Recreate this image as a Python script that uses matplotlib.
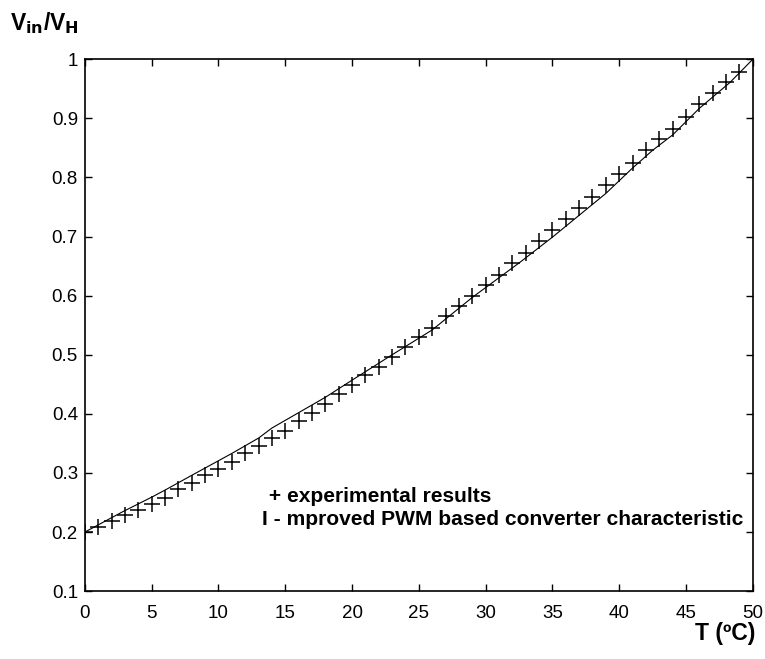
import numpy as np
import matplotlib.pyplot as plt

plt.rcParams['font.family'] = ['Liberation Sans', 'DejaVu Sans']

# experimental points (one per degree)
t_exp = np.arange(0, 50)
v_exp = [0.200, 0.208, 0.219, 0.228, 0.238, 0.248, 0.258, 0.272, 0.283, 0.296,
         0.306, 0.318, 0.333, 0.345, 0.359, 0.371, 0.388, 0.401, 0.417, 0.433,
         0.449, 0.465, 0.480, 0.496, 0.513, 0.530, 0.545, 0.565, 0.582, 0.599,
         0.618, 0.635, 0.655, 0.673, 0.692, 0.711, 0.729, 0.748, 0.767, 0.788,
         0.806, 0.825, 0.846, 0.865, 0.882, 0.902, 0.924, 0.943, 0.961, 0.979]

# converter characteristic
t_line = [0, 2.8, 5, 6, 8, 11, 13, 14, 18, 20, 23, 26, 29, 32.6, 35, 39,
          41, 42.5, 44, 46, 48.3, 50]
v_line = [0.200, 0.234, 0.259, 0.271, 0.296, 0.333, 0.359, 0.376, 0.428, 0.457,
          0.500, 0.542, 0.597, 0.657, 0.699, 0.773, 0.816, 0.846, 0.872, 0.917,
          0.961, 1.000]

fig = plt.figure(figsize=(7.65, 6.59), dpi=100)
ax = fig.add_axes([0.111, 0.103, 0.873, 0.807])

ax.plot(t_line, v_line, color='black', linewidth=0.8)
ax.plot(t_exp, v_exp, linestyle='none', marker='+', markersize=11,
        markeredgewidth=1.1, color='black')

ax.set_xlim(0, 50)
ax.set_ylim(0.1, 1.0)
ax.set_xticks(np.arange(0, 51, 5))
ax.set_yticks(np.round(np.arange(0.1, 1.01, 0.1), 1))
ax.set_yticklabels(['0.1', '0.2', '0.3', '0.4', '0.5', '0.6', '0.7', '0.8', '0.9', '1'])
ax.tick_params(direction='in', top=True, right=True, length=5, width=1,
               labelsize=13.5)
ax.tick_params(axis='x', pad=10)
ax.tick_params(axis='y', pad=5)
for s in ax.spines.values():
    s.set_linewidth(1.2)

fig.text(0.013, 0.965, r'V$_{\mathbf{in}}$/V$_{\mathbf{H}}$', fontsize=16.5,
         fontweight='bold', va='center', ha='left')
fig.text(0.987, 0.038, 'T (ºC)', fontsize=16.5, fontweight='bold',
         va='center', ha='right')

ax.text(0.266, 0.177, ' + experimental results', transform=ax.transAxes,
        fontsize=15.1, fontweight='bold', va='center')
ax.text(0.265, 0.135, 'I - mproved PWM based converter characteristic',
        transform=ax.transAxes, fontsize=15.1, fontweight='bold', va='center')

fig.savefig('out.png', dpi=100)
